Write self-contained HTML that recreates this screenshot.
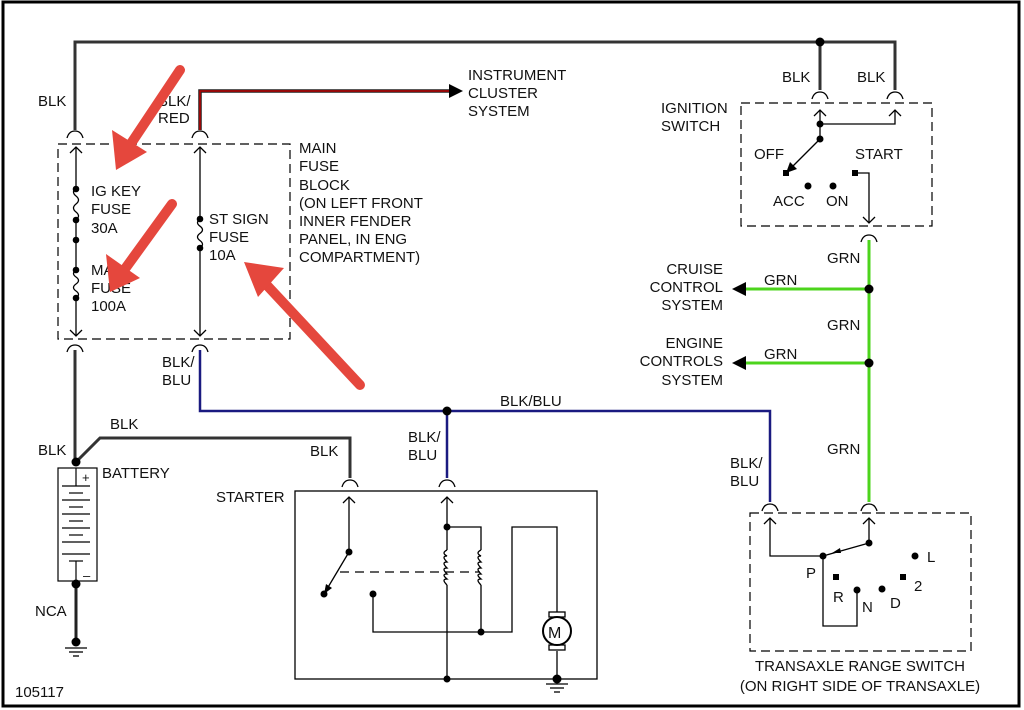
<!DOCTYPE html>
<html><head><meta charset="utf-8"><style>
html,body{margin:0;padding:0;background:#fff}
svg{display:block}
text{font-family:"Liberation Sans",sans-serif;font-size:15px;fill:#111}
</style></head><body>
<svg width="1024" height="710" viewBox="0 0 1024 710" xmlns="http://www.w3.org/2000/svg">
<defs>
<g id="fc"><path d="M-8,5 Q-6,-2 0,-2 Q6,-2 8,5" fill="none" stroke="#000" stroke-width="1.3"/></g>
<g id="up"><path d="M-6,6 L0,0 L6,6" fill="none" stroke="#000" stroke-width="1.3"/></g>
<g id="dn"><path d="M-6,-6 L0,0 L6,-6" fill="none" stroke="#000" stroke-width="1.3"/></g>
<g id="gnd"><line x1="-11" y1="0" x2="11" y2="0" stroke="#000" stroke-width="1.3"/><line x1="-7" y1="4" x2="7" y2="4" stroke="#000" stroke-width="1.3"/><line x1="-3" y1="8" x2="3" y2="8" stroke="#000" stroke-width="1.3"/></g>
</defs>
<rect x="3" y="2" width="1016" height="704" fill="none" stroke="#000" stroke-width="3"/>

<g fill="none" stroke-linejoin="miter">
<polyline points="75,130 75,42 895,42 895,90" stroke="#333" stroke-width="3"/>
<line x1="820" y1="42" x2="820" y2="90" stroke="#333" stroke-width="3"/>
<polyline points="200,130 200,91 450,91" stroke="#222" stroke-width="3.5"/>
<polyline points="200,130 200,91 450,91" stroke="#b00" stroke-width="1.5"/>
<line x1="75" y1="350" x2="75" y2="462" stroke="#333" stroke-width="3"/>
<polyline points="76,462 100,438 350,438 350,478" stroke="#333" stroke-width="3"/>
<line x1="76" y1="585" x2="76" y2="640" stroke="#222" stroke-width="3"/>
<polyline points="200,350 200,411 770,411 770,502" stroke="#1a1a80" stroke-width="2.5"/>
<line x1="447" y1="411" x2="447" y2="478" stroke="#1a1a80" stroke-width="2.5"/>
<line x1="869" y1="240" x2="869" y2="502" stroke="#4cd41c" stroke-width="3"/>
<line x1="746" y1="289" x2="865" y2="289" stroke="#4cd41c" stroke-width="3"/>
<line x1="746" y1="363" x2="865" y2="363" stroke="#4cd41c" stroke-width="3"/>
</g>
<polygon points="463,91 449,84 449,98" fill="#000"/>
<polygon points="732,289 746,282 746,296" fill="#000"/>
<polygon points="732,363 746,356 746,370" fill="#000"/>
<g fill="#000">
<circle cx="820" cy="42" r="4.5"/><circle cx="447" cy="411" r="4.5"/><circle cx="869" cy="289" r="4.5"/><circle cx="869" cy="363" r="4.5"/>
<circle cx="76" cy="462" r="4.5"/><circle cx="76" cy="584" r="4.5"/><circle cx="76" cy="642" r="4.5"/>
</g>

<use href="#fc" x="75" y="133"/><use href="#fc" x="200" y="133"/><use href="#fc" x="75" y="347"/><use href="#fc" x="200" y="347"/>
<use href="#fc" x="820" y="94"/><use href="#fc" x="895" y="94"/><use href="#fc" x="869" y="237"/>
<use href="#fc" x="350" y="482"/><use href="#fc" x="447" y="482"/><use href="#fc" x="770" y="506"/><use href="#fc" x="869" y="506"/>

<rect x="58" y="144" width="232" height="195" fill="none" stroke="#000" stroke-width="1.2" stroke-dasharray="9,5"/>
<g stroke="#000" stroke-width="1.3" fill="none">
<line x1="76" y1="147" x2="76" y2="188"/><line x1="76" y1="220" x2="76" y2="270"/><line x1="76" y1="298" x2="76" y2="336"/>
<path d="M76,188 q-5,4 0,8 q5,4 0,8 q-5,4 0,8 q5,4 0,8"/>
<path d="M76,270 q-5,3.5 0,7 q5,3.5 0,7 q-5,3.5 0,7 q5,3.5 0,7"/>
<line x1="200" y1="147" x2="200" y2="219"/><line x1="200" y1="248" x2="200" y2="336"/>
<path d="M200,219 q-5,3.6 0,7.2 q5,3.6 0,7.2 q-5,3.6 0,7.2 q5,3.6 0,7.2"/>
</g>
<use href="#up" x="76" y="147"/><use href="#up" x="200" y="147"/><use href="#dn" x="76" y="336"/><use href="#dn" x="200" y="336"/>
<g fill="#000"><circle cx="76" cy="189" r="3.3"/><circle cx="76" cy="220" r="3.3"/><circle cx="76" cy="240" r="3.3"/><circle cx="76" cy="270" r="3.3"/><circle cx="76" cy="298" r="3.3"/><circle cx="200" cy="219" r="3.3"/><circle cx="200" cy="248" r="3.3"/></g>

<rect x="58" y="468" width="39" height="113" fill="none" stroke="#000" stroke-width="1.2"/>
<g stroke="#000" stroke-width="1.2">
<line x1="76" y1="468" x2="76" y2="486"/><line x1="76" y1="561" x2="76" y2="581"/>
<line x1="62" y1="486" x2="90" y2="486"/><line x1="69" y1="493" x2="83" y2="493"/>
<line x1="62" y1="500" x2="90" y2="500"/><line x1="69" y1="507" x2="83" y2="507"/>
<line x1="62" y1="514" x2="90" y2="514"/><line x1="69" y1="521" x2="83" y2="521"/>
<line x1="62" y1="528" x2="90" y2="528"/><line x1="69" y1="535" x2="83" y2="535"/>
<line x1="62" y1="542" x2="90" y2="542"/><line x1="62" y1="554" x2="90" y2="554"/><line x1="69" y1="561" x2="83" y2="561"/>
</g>
<text x="82" y="482" style="font-size:13px">+</text><text x="83" y="580" style="font-size:13px">–</text>
<use href="#gnd" x="76" y="648"/>

<rect x="295" y="491" width="302" height="188" fill="none" stroke="#000" stroke-width="1.3"/>
<g stroke="#000" stroke-width="1.3" fill="none">
<line x1="349" y1="497" x2="349" y2="552"/>
<line x1="349" y1="552" x2="324" y2="594"/>
<line x1="340" y1="572" x2="480" y2="572" stroke-dasharray="9,6"/>
<polyline points="373,594 373,632 481,632 481,585"/>
<polyline points="447,497 447,550"/><line x1="447" y1="585" x2="447" y2="679"/>
<polyline points="447,527 481,527 481,550"/>
<path d="M447,550 q-6,3 0,6 q-6,0 0,6 q-6,0 0,6 q-6,0 0,6 q-6,0 0,5 q-6,0 0,6"/>
<path d="M481,550 q-6,3 0,6 q-6,0 0,6 q-6,0 0,6 q-6,0 0,6 q-6,0 0,5 q-6,0 0,6"/>
<polyline points="481,632 512,632 512,527 557,527 557,612"/>
<line x1="557" y1="651" x2="557" y2="679"/>
<circle cx="557" cy="631" r="14" stroke-width="2"/>
<rect x="549" y="612" width="16" height="5"/><rect x="549" y="645" width="16" height="5"/>
</g>
<polygon points="324,594 326,584 332,588" fill="#000"/>
<text x="548" y="638" style="font-size:16px">M</text>
<use href="#up" x="349" y="497"/><use href="#up" x="447" y="497"/>
<g fill="#000"><circle cx="349" cy="552" r="3.5"/><circle cx="324" cy="594" r="3.5"/><circle cx="373" cy="594" r="3.5"/><circle cx="447" cy="527" r="3.5"/><circle cx="481" cy="632" r="3.5"/><circle cx="447" cy="679" r="3.5"/><circle cx="557" cy="679" r="4.5"/></g>
<use href="#gnd" x="557" y="684"/>

<rect x="741" y="103" width="191" height="123" fill="none" stroke="#000" stroke-width="1.2" stroke-dasharray="9,5"/>
<g stroke="#000" stroke-width="1.3" fill="none">
<line x1="820" y1="110" x2="820" y2="139"/><polyline points="820,124 895,124 895,110"/>
<line x1="820" y1="139" x2="788" y2="171"/>
<polyline points="855,173 869,173 869,222"/>
</g>
<polygon points="786,173 790,162 797,169" fill="#000"/>
<use href="#up" x="820" y="110"/><use href="#up" x="895" y="110"/><use href="#dn" x="869" y="223"/>
<g fill="#000"><circle cx="820" cy="124" r="3.5"/><circle cx="820" cy="139" r="3.5"/><rect x="783" y="170" width="6" height="6"/><circle cx="808" cy="186" r="3.5"/><circle cx="833" cy="186" r="3.5"/><rect x="852" y="170" width="6" height="6"/></g>

<rect x="750" y="513" width="221" height="138" fill="none" stroke="#000" stroke-width="1.2" stroke-dasharray="9,5"/>
<g stroke="#000" stroke-width="1.3" fill="none">
<polyline points="770,518 770,556 823,556"/>
<line x1="823" y1="556" x2="869" y2="543"/><line x1="869" y1="518" x2="869" y2="543"/>
<polyline points="823,556 823,626 857,626 857,590"/>
</g>
<polygon points="832,553 840,548 841,553" fill="#000"/>
<use href="#up" x="770" y="518"/><use href="#up" x="869" y="518"/>
<g fill="#000"><circle cx="823" cy="556" r="3.5"/><circle cx="869" cy="543" r="3.5"/><rect x="833" y="574" width="6" height="6"/><circle cx="857" cy="590" r="3.5"/><circle cx="882" cy="589" r="3.5"/><rect x="900" y="574" width="6" height="6"/><circle cx="915" cy="556" r="3.5"/></g>

<text x="38" y="106">BLK</text>
<text x="158" y="106">BLK/</text><text x="158" y="123">RED</text>
<text x="468" y="80">INSTRUMENT</text><text x="468" y="98">CLUSTER</text><text x="468" y="116">SYSTEM</text>
<text x="299" y="153">MAIN</text><text x="299" y="171">FUSE</text><text x="299" y="190">BLOCK</text><text x="299" y="208">(ON LEFT FRONT</text><text x="299" y="226">INNER FENDER</text><text x="299" y="244">PANEL, IN ENG</text><text x="299" y="262">COMPARTMENT)</text>
<text x="91" y="196">IG KEY</text><text x="91" y="214">FUSE</text><text x="91" y="233">30A</text>
<text x="91" y="275">MAIN</text><text x="91" y="293">FUSE</text><text x="91" y="311">100A</text>
<text x="209" y="224">ST SIGN</text><text x="209" y="242">FUSE</text><text x="209" y="260">10A</text>
<text x="162" y="367">BLK/</text><text x="162" y="385">BLU</text>
<text x="500" y="406">BLK/BLU</text>
<text x="110" y="429">BLK</text><text x="38" y="455">BLK</text>
<text x="102" y="478">BATTERY</text>
<text x="310" y="456">BLK</text>
<text x="408" y="442">BLK/</text><text x="408" y="460">BLU</text>
<text x="216" y="502">STARTER</text>
<text x="35" y="616">NCA</text>
<text x="15" y="697">105117</text>
<text x="782" y="82">BLK</text><text x="857" y="82">BLK</text>
<text x="661" y="113">IGNITION</text><text x="661" y="131">SWITCH</text>
<text x="754" y="159">OFF</text><text x="855" y="159">START</text>
<text x="773" y="206">ACC</text><text x="826" y="206">ON</text>
<text x="827" y="263">GRN</text><text x="827" y="330">GRN</text><text x="827" y="454">GRN</text>
<text x="764" y="285">GRN</text><text x="764" y="359">GRN</text>
<g text-anchor="end"><text x="723" y="274">CRUISE</text><text x="723" y="292">CONTROL</text><text x="723" y="310">SYSTEM</text>
<text x="723" y="348">ENGINE</text><text x="723" y="366">CONTROLS</text><text x="723" y="385">SYSTEM</text></g>
<text x="730" y="468">BLK/</text><text x="730" y="486">BLU</text>
<text x="806" y="578">P</text><text x="833" y="602">R</text><text x="862" y="612">N</text><text x="890" y="608">D</text><text x="914" y="591">2</text><text x="927" y="562">L</text>
<g text-anchor="middle"><text x="860" y="671">TRANSAXLE RANGE SWITCH</text><text x="860" y="691">(ON RIGHT SIDE OF TRANSAXLE)</text></g>

<g stroke="#e5473d" stroke-width="10" stroke-linecap="round" fill="none">
<line x1="180" y1="70" x2="128" y2="148"/>
<line x1="172" y1="204" x2="122" y2="273"/>
<line x1="360" y1="385" x2="262" y2="280"/>
</g>
<g fill="#e5473d">
<polygon points="116,170 112,130 147,152"/>
<polygon points="110,292 106,254 140,278"/>
<polygon points="244,262 284,268 258,297"/>
</g>
</svg>
</body></html>
